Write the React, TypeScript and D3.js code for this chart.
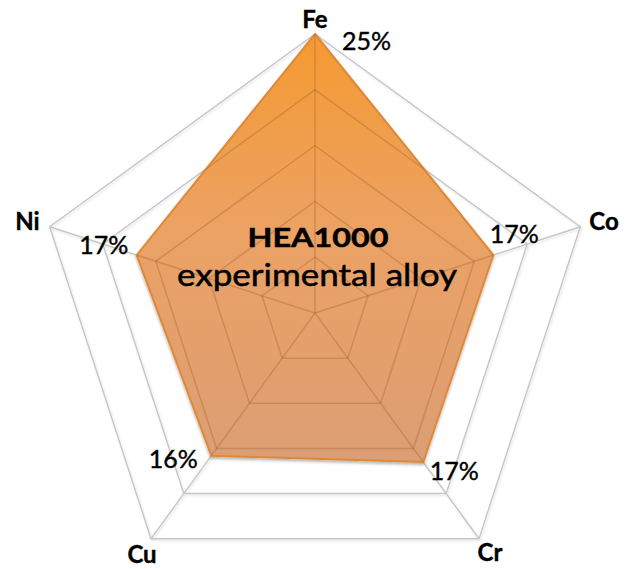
import React from 'react';
import * as d3 from 'd3';

// data (percent, labels are rounded)
const elements = ['Fe', 'Co', 'Cr', 'Cu', 'Ni'];
const composition = [25, 16.8, 16.5, 15.8, 16.8];
const ringTicks = [5, 10, 15, 20, 25];
const titleLines = ['HEA1000', 'experimental alloy'];

// label nudges (layout only)
const nameNudge = [
  { dx: 0, dy: -6, anchor: 'middle' },
  { dx: 9, dy: 3, anchor: 'start' },
  { dx: 11, dy: 22, anchor: 'middle' },
  { dx: -9, dy: 24, anchor: 'middle' },
  { dx: -10, dy: 3, anchor: 'end' },
];
const valueNudge = [
  { dx: 27, dy: 16, anchor: 'start' },
  { dx: 21, dy: -12, anchor: 'middle' },
  { dx: 31, dy: 18, anchor: 'middle' },
  { dx: -38, dy: 12, anchor: 'middle' },
  { dx: -33, dy: -1, anchor: 'middle' },
];

const width = 632;
const height = 569;
const cx = 315;
const cy = 313;
const radius = 279;
const font = "Lato, 'Open Sans', sans-serif";

export default function App() {
  const r = d3.scaleLinear().domain([0, 25]).range([0, radius]);
  const angle = d3
    .scaleLinear()
    .domain([0, elements.length])
    .range([0, 2 * Math.PI]);

  // point in screen coords for axis i at value v
  const pt = (i: number, v: number): [number, number] => {
    const a = angle(i);
    return [cx + r(v) * Math.sin(a), cy - r(v) * Math.cos(a)];
  };

  const radial = d3
    .lineRadial<number>()
    .angle((_, i) => angle(i))
    .radius((d) => r(d))
    .curve(d3.curveLinearClosed);

  const ringPath = (t: number) => radial(elements.map(() => t)) || '';
  const dataPath = radial(composition) || '';
  const fmt = d3.format('.0f');

  const grid = (stroke: string, sw: number) => (
    <g fill="none" stroke={stroke} strokeWidth={sw}>
      {ringTicks.map((t) => (
        <path key={t} d={ringPath(t)} />
      ))}
      {elements.map((e, i) => {
        const [x, y] = pt(i, 25);
        return <line key={e} x1={0} y1={0} x2={x - cx} y2={y - cy} />;
      })}
    </g>
  );

  return (
    <svg
      width={width}
      height={height}
      style={{ position: 'absolute', left: 0, top: 0, background: '#fff' }}
    >
      <defs>
        <linearGradient id="fillGrad" x1="0" y1="0" x2="0" y2="1">
          <stop offset="0%" stopColor="#f59a30" />
          <stop offset="45%" stopColor="#eca264" />
          <stop offset="100%" stopColor="#dc9e74" />
        </linearGradient>
        <filter id="shadow" x="-10%" y="-10%" width="120%" height="120%">
          <feDropShadow dx="0" dy="2" stdDeviation="1.5" floodColor="#000" floodOpacity="0.3" />
        </filter>
        <filter id="soft" x="-5%" y="-5%" width="110%" height="110%">
          <feDropShadow dx="1" dy="1.5" stdDeviation="1" floodColor="#000" floodOpacity="0.12" />
        </filter>
        <clipPath id="dataClip">
          <path d={dataPath} transform={`translate(${cx},${cy})`} />
        </clipPath>
      </defs>

      <g transform={`translate(${cx},${cy})`} filter="url(#soft)">
        {grid('#c6c6c6', 1.4)}
      </g>

      <g transform={`translate(${cx},${cy})`}>
        <path
          d={dataPath}
          fill="url(#fillGrad)"
          stroke="#df8838"
          strokeWidth={2}
          strokeLinejoin="miter"
          filter="url(#shadow)"
        />
      </g>

      <g clipPath="url(#dataClip)">
        <g transform={`translate(${cx},${cy})`}>
          {grid('rgba(150,85,35,0.3)', 1.5)}
        </g>
      </g>

      {/* centre title */}
      <text
        x={318}
        y={247}
        textAnchor="middle"
        fontFamily={font}
        fontWeight="bold"
        fontSize={27}
        textLength={141}
        lengthAdjust="spacingAndGlyphs"
        fill="#000"
        stroke="#000"
        strokeWidth={0.5}
      >
        {titleLines[0]}
      </text>
      <text
        x={317}
        y={286}
        textAnchor="middle"
        fontFamily={font}
        fontSize={31}
        textLength={280}
        lengthAdjust="spacingAndGlyphs"
        fill="#000"
        stroke="#000"
        strokeWidth={0.5}
      >
        {titleLines[1]}
      </text>

      {/* element names */}
      {elements.map((e, i) => {
        const [x, y] = pt(i, 25);
        const n = nameNudge[i];
        return (
          <text
            key={e}
            x={x + n.dx}
            y={y + n.dy}
            textAnchor={n.anchor as any}
            fontFamily={font}
            fontWeight="bold"
            fontSize={24}
            fill="#000"
            stroke="#000"
            strokeWidth={0.4}
          >
            {e}
          </text>
        );
      })}

      {/* value labels */}
      {composition.map((v, i) => {
        const [x, y] = pt(i, v);
        const n = valueNudge[i];
        return (
          <text
            key={elements[i]}
            x={x + n.dx}
            y={y + n.dy}
            textAnchor={n.anchor as any}
            fontFamily={font}
            fontSize={25}
            fill="#000"
            stroke="#000"
            strokeWidth={0.4}
          >
            {fmt(v) + '%'}
          </text>
        );
      })}
    </svg>
  );
}
